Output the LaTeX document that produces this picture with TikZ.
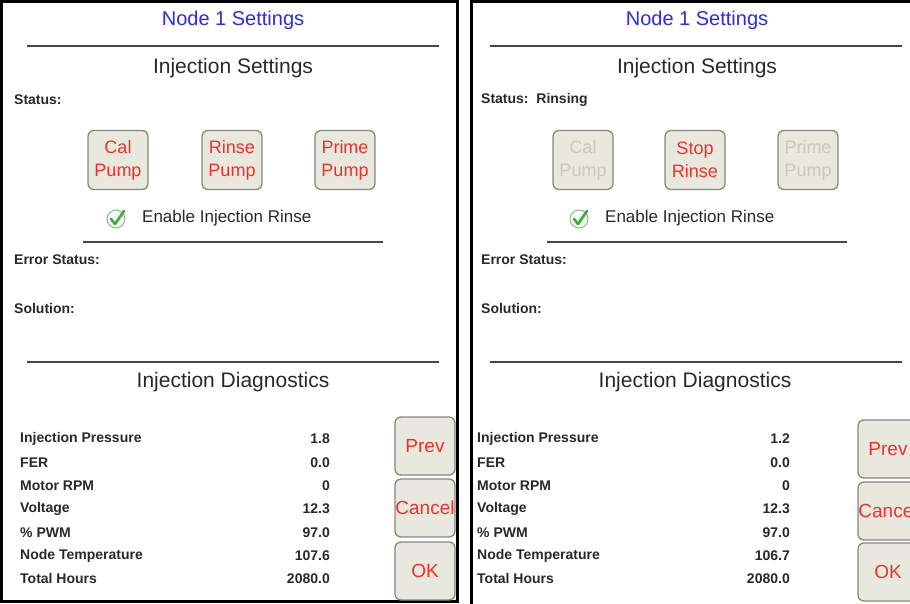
\documentclass[tikz,border=0pt]{standalone}
\usepackage{fontspec}
\setmainfont{Liberation Sans}
\usetikzlibrary{positioning}
\definecolor{titleblue}{RGB}{45,45,215}
\definecolor{inkgray}{RGB}{40,40,40}
\definecolor{btnfill}{RGB}{232,232,222}
\definecolor{btnedge}{RGB}{135,135,130}
\definecolor{btnred}{RGB}{232,50,45}
\definecolor{offtext}{RGB}{200,200,192}
\definecolor{rulegray}{RGB}{70,70,70}
\definecolor{checkgreen}{RGB}{60,170,60}
\tikzset{
    %Define style for screen titles
    title/.style={
           font=\fontsize{20}{24}\selectfont,
           text=titleblue,
           inner sep=0pt,
           },
    heading/.style={
           font=\fontsize{21}{25}\selectfont,
           text=inkgray,
           inner sep=0pt,
           },
    %Define style for small labels
    field/.style={
           font=\bfseries\fontsize{14}{16}\selectfont,
           text=inkgray,
           inner sep=0pt,
           anchor=west,
           },
    reading/.style={
           field,
           anchor=east,
           },
    optlabel/.style={
           font=\fontsize{17}{20}\selectfont,
           text=inkgray,
           inner sep=0pt,
           anchor=west,
           },
    %Define style for buttons
    pumpbtn/.style={
           rectangle,
           rounded corners=6pt,
           draw=btnedge, line width=1.3pt,
           fill=btnfill,
           minimum width=60pt,
           minimum height=59pt,
           inner sep=0pt,
           align=center,
           text=btnred,
           font=\fontsize{18}{23}\selectfont,
           },
    offbtn/.style={
           pumpbtn,
           text=offtext,
           },
    navbtn/.style={
           pumpbtn,
           minimum height=58pt,
           font=\fontsize{19}{23}\selectfont,
           },
    tick/.style={
           circle,
           draw=black!35, line width=1pt,
           fill=green!6,
           minimum size=18pt,
           inner sep=0pt,
           },
    % Define line styles
    sep/.style={draw=rulegray, line width=2pt},
    frame/.style={draw=black, line width=3pt},
    checkline/.style={draw=checkgreen, line width=2.6pt, line cap=round, line join=round}
}
\begin{document}
\begin{tikzpicture}[x=1pt,y=-1pt]
\useasboundingbox (0,0) rectangle (910,603);
% left screen
\draw[frame] (1.5,1.5) rectangle (457,601.5);
\node[title](ltitle) at (233,20){Node 1 Settings};
\draw[sep] (27,46) -- (439,46);
\node[heading](lset) at (233,68){Injection Settings};
\node[field](lstatus) at (14,100){Status:};
\node[pumpbtn](lcal) at (118,160){Cal\\Pump};
\node[pumpbtn](lrinse) at (232,160){Rinse\\Pump};
\node[pumpbtn](lprime) at (345,160){Prime\\Pump};
\node[tick](lchk) at (116,219){};
\draw[checkline] ([shift={(-5,0)}]lchk.center) -- ([shift={(-1,5)}]lchk.center) -- ([shift={(8,-8)}]lchk.center);
\node[optlabel](lenable) at (142,218){Enable Injection Rinse};
\draw[sep] (83,242) -- (383,242);
\node[field](lerror) at (14,260){Error Status:};
\node[field](lsol) at (14,308){Solution:};
\draw[sep] (27,362) -- (439,362);
\node[heading](ldiag) at (233,382){Injection Diagnostics};
\foreach \lab/\v [count=\i] in {Injection Pressure/1.8, FER/0.0, Motor RPM/0, Voltage/12.3, \% PWM/97.0, Node Temperature/107.6, Total Hours/2080.0}{
    \node[field](lname\i) at (20,415.7+23.3*\i){\lab};
    \node[reading](lval\i) at (330,415.7+23.3*\i){\v};
}
\node[navbtn](lprev) at (425,446){Prev};
\node[navbtn](lcancel) at (425,508){Cancel};
\node[navbtn](lok) at (425,571){OK};
% right screen
\draw[frame] (471,604) -- (471,1.5) -- (911,1.5);
\node[title](rtitle) at (697,20){Node 1 Settings};
\draw[sep] (490,46) -- (902,46);
\node[heading](rset) at (697,68){Injection Settings};
\node[field](rstatus) at (481,100){Status:\ \ Rinsing};
\node[offbtn](rcal) at (583,160){Cal\\Pump};
\node[pumpbtn](rstop) at (695,160){Stop\\Rinse};
\node[offbtn](rprime) at (808,160){Prime\\Pump};
\node[tick](rchk) at (579,219){};
\draw[checkline] ([shift={(-5,0)}]rchk.center) -- ([shift={(-1,5)}]rchk.center) -- ([shift={(8,-8)}]rchk.center);
\node[optlabel](renable) at (605,218){Enable Injection Rinse};
\draw[sep] (547,242) -- (847,242);
\node[field](rerror) at (481,260){Error Status:};
\node[field](rsol) at (481,308){Solution:};
\draw[sep] (490,362) -- (902,362);
\node[heading](rdiag) at (695,382){Injection Diagnostics};
\foreach \lab/\v [count=\i] in {Injection Pressure/1.2, FER/0.0, Motor RPM/0, Voltage/12.3, \% PWM/97.0, Node Temperature/106.7, Total Hours/2080.0}{
    \node[field](rname\i) at (477,415.7+23.3*\i){\lab};
    \node[reading](rval\i) at (790,415.7+23.3*\i){\v};
}
\node[navbtn](rprev) at (888,449){Prev};
\node[navbtn](rcancel) at (888,511){Cancel};
\node[navbtn](rok) at (888,572){OK};
\end{tikzpicture}
\end{document}
